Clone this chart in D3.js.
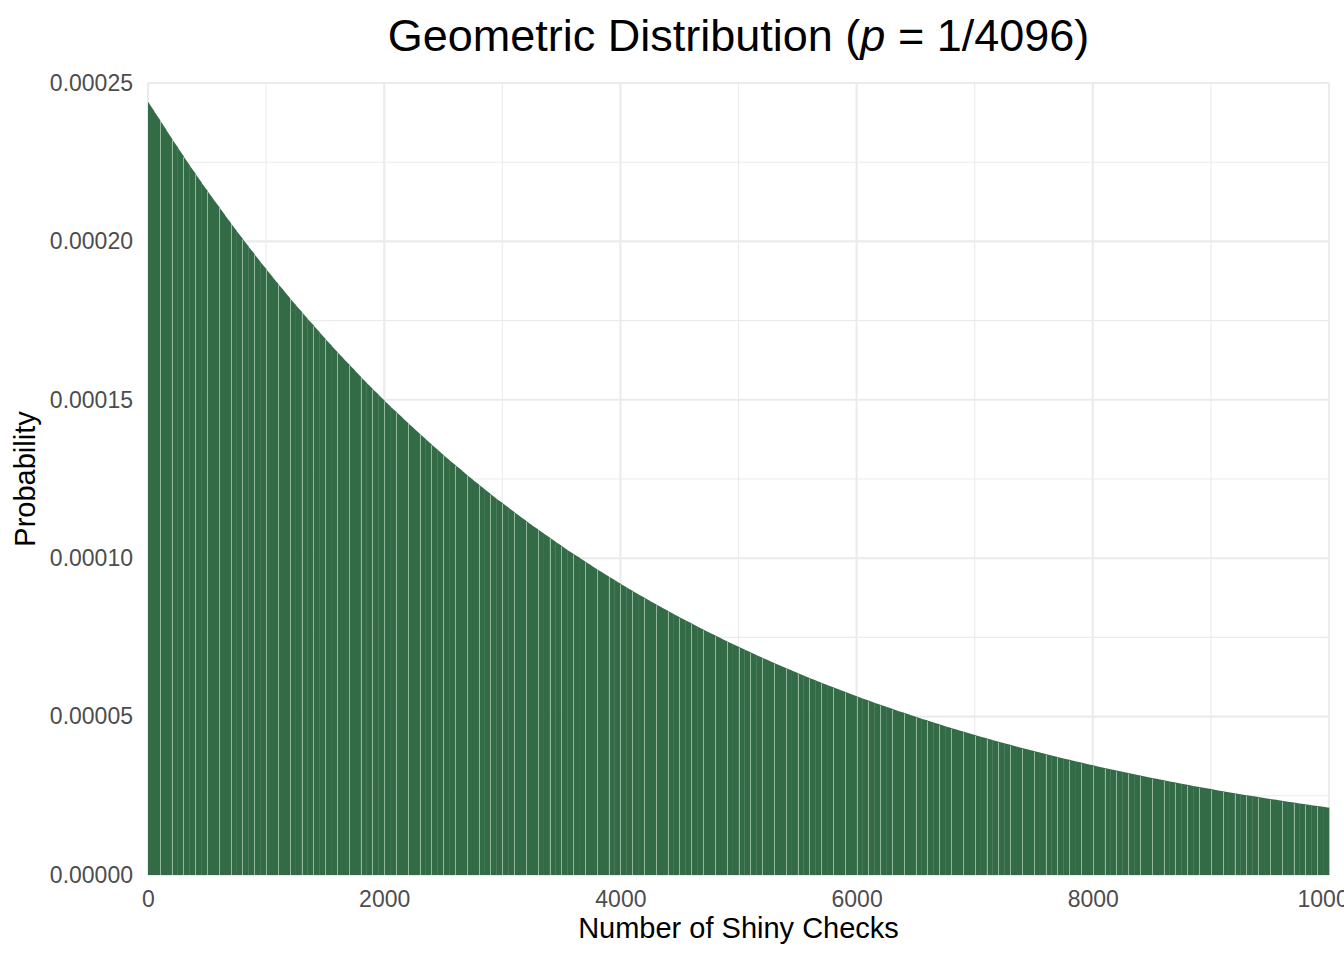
<!DOCTYPE html>
<html>
<head>
<meta charset="utf-8">
<script src="https://cdn.jsdelivr.net/npm/d3@7"></script>
<style>
  html, body { margin: 0; padding: 0; background: #fff; }
  svg { display: block; font-family: "Liberation Sans", Arial, Helvetica, sans-serif; }
</style>
</head>
<body>
<svg id="chart" width="1344" height="960"></svg>
<script>
// x positions read every 50 checks, values in units of 1e-5
const checkStep = 50;
const checks = d3.range(0, 10001, checkStep);
const probE5 = [
  24.41, 24.12, 23.83, 23.54, 23.25, 22.97, 22.69, 22.41, 22.14, 21.87,
  21.61, 21.35, 21.09, 20.83, 20.58, 20.33, 20.08, 19.84, 19.60, 19.36,
  19.13, 18.89, 18.66, 18.44, 18.21, 17.99, 17.78, 17.56, 17.35, 17.14,
  16.93, 16.72, 16.52, 16.32, 16.12, 15.93, 15.73, 15.54, 15.35, 15.17,
  14.98, 14.80, 14.62, 14.45, 14.27, 14.10, 13.93, 13.76, 13.59, 13.43,
  13.26, 13.10, 12.94, 12.79, 12.63, 12.48, 12.33, 12.18, 12.03, 11.88,
  11.74, 11.60, 11.46, 11.32, 11.18, 11.04, 10.91, 10.78, 10.65, 10.52,
  10.39, 10.26, 10.14, 10.02, 9.894, 9.774, 9.655, 9.538, 9.422, 9.308,
  9.195, 9.083, 8.973, 8.864, 8.757, 8.651, 8.546, 8.442, 8.340, 8.239,
  8.139, 8.040, 7.943, 7.847, 7.751, 7.657, 7.564, 7.472, 7.382, 7.292,
  7.204, 7.117, 7.030, 6.945, 6.860, 6.777, 6.695, 6.614, 6.533, 6.454,
  6.376, 6.299, 6.222, 6.147, 6.072, 5.998, 5.925, 5.853, 5.782, 5.712,
  5.643, 5.575, 5.507, 5.440, 5.374, 5.309, 5.244, 5.180, 5.118, 5.056,
  4.994, 4.933, 4.874, 4.815, 4.756, 4.698, 4.641, 4.585, 4.529, 4.474,
  4.420, 4.366, 4.313, 4.261, 4.209, 4.158, 4.108, 4.058, 4.009, 3.960,
  3.912, 3.865, 3.818, 3.772, 3.726, 3.681, 3.636, 3.592, 3.548, 3.505,
  3.462, 3.420, 3.379, 3.338, 3.297, 3.257, 3.218, 3.179, 3.140, 3.102,
  3.064, 3.027, 2.990, 2.954, 2.918, 2.883, 2.848, 2.813, 2.779, 2.745,
  2.712, 2.679, 2.647, 2.615, 2.583, 2.552, 2.521, 2.490, 2.460, 2.430,
  2.401, 2.372, 2.343, 2.315, 2.286, 2.258, 2.231, 2.204, 2.177, 2.151,
  2.125
];

const xMajor = [0, 2000, 4000, 6000, 8000, 10000];
const xMinor = [1000, 3000, 5000, 7000, 9000];
const yMajor = [0, 0.00005, 0.0001, 0.00015, 0.0002, 0.00025];
const yMinor = [0.000025, 0.000075, 0.000125, 0.000175, 0.000225];

const points = checks.map((c, i) => ({ check: c, prob: probE5[i] * 1e-5 }));
// each bar runs from one reading to the next
const bars = points.slice(0, -1).map((d, i) => ({ a: d, b: points[i + 1], i: i }));

const plotLeft = 148, plotRight = 1329, plotTop = 83, plotBottom = 875;

const svg = d3.select("#chart");
svg.append("rect").attr("width", 1344).attr("height", 960).attr("fill", "#fff");

const x = d3.scaleLinear().domain([0, 10000]).range([plotLeft, plotRight]);
const y = d3.scaleLinear().domain([0, 0.00025]).range([plotBottom, plotTop]);

// grid
const grid = svg.append("g").attr("stroke", "#ebebeb");
grid.selectAll("line.ymin").data(yMinor).enter().append("line")
  .attr("x1", plotLeft).attr("x2", plotRight)
  .attr("y1", (d) => y(d)).attr("y2", (d) => y(d))
  .attr("stroke-width", 1.1);
grid.selectAll("line.xmin").data(xMinor).enter().append("line")
  .attr("y1", plotTop).attr("y2", plotBottom)
  .attr("x1", (d) => x(d)).attr("x2", (d) => x(d))
  .attr("stroke-width", 1.1);
grid.selectAll("line.ymaj").data(yMajor).enter().append("line")
  .attr("x1", plotLeft).attr("x2", plotRight)
  .attr("y1", (d) => y(d)).attr("y2", (d) => y(d))
  .attr("stroke-width", 2.1);
grid.selectAll("line.xmaj").data(xMajor).enter().append("line")
  .attr("y1", plotTop).attr("y2", plotBottom)
  .attr("x1", (d) => x(d)).attr("x2", (d) => x(d))
  .attr("stroke-width", 2.1);

// bars
const barG = svg.append("g");
barG.selectAll("path").data(bars).enter().append("path")
  .attr("d", (d) => {
    const x0 = x(d.a.check), x1 = x(d.b.check) + 0.3;
    return `M${x0},${y(0)}L${x0},${y(d.a.prob)}L${x1},${y(d.b.prob)}L${x1},${y(0)}Z`;
  })
  .attr("fill", "#336b47");

// faint seams between bars
barG.selectAll("line").data(bars.filter((d) => d.i % 2 === 1 && d.i < bars.length - 1))
  .enter().append("line")
  .attr("x1", (d) => Math.round(x(d.b.check)) + 0.5)
  .attr("x2", (d) => Math.round(x(d.b.check)) + 0.5)
  .attr("y1", (d) => y(d.b.prob) + 1)
  .attr("y2", y(0))
  .attr("stroke", "#92b79c")
  .attr("stroke-width", 1);

// axes
const xAxis = svg.append("g")
  .attr("transform", `translate(0,${plotBottom})`)
  .call(d3.axisBottom(x).tickValues(xMajor).tickSize(0).tickPadding(16).tickFormat(d3.format("d")));
xAxis.select(".domain").remove();
xAxis.selectAll("text")
  .attr("font-size", 23).attr("fill", "#4d4d4d")
  .attr("font-family", "Liberation Sans, Arial, sans-serif");

const yAxis = svg.append("g")
  .attr("transform", `translate(${plotLeft},0)`)
  .call(d3.axisLeft(y).tickValues(yMajor).tickSize(0).tickPadding(15).tickFormat(d3.format(".5f")));
yAxis.select(".domain").remove();
yAxis.selectAll("text")
  .attr("font-size", 23).attr("fill", "#4d4d4d")
  .attr("font-family", "Liberation Sans, Arial, sans-serif");

// titles
const title = svg.append("text")
  .attr("x", (plotLeft + plotRight) / 2).attr("y", 51)
  .attr("text-anchor", "middle")
  .attr("font-size", 45).attr("fill", "#000");
title.append("tspan").text("Geometric Distribution (");
title.append("tspan").attr("font-style", "italic").text("p");
title.append("tspan").text(" = 1/4096)");

svg.append("text")
  .attr("x", (plotLeft + plotRight) / 2).attr("y", 938)
  .attr("text-anchor", "middle")
  .attr("font-size", 29).attr("fill", "#000")
  .text("Number of Shiny Checks");

svg.append("text")
  .attr("transform", `translate(35,${(plotTop + plotBottom) / 2}) rotate(-90)`)
  .attr("text-anchor", "middle")
  .attr("font-size", 29).attr("fill", "#000")
  .text("Probability");
</script>
</body>
</html>
